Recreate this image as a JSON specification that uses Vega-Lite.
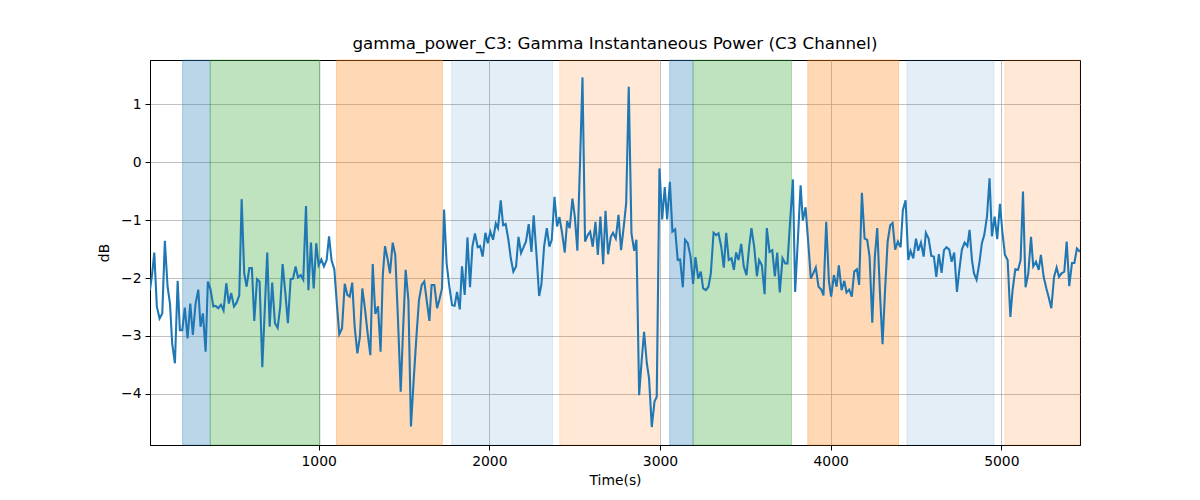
{
  "$schema": "https://vega.github.io/schema/vega-lite/v6.json",
  "width": 930,
  "height": 385,
  "autosize": {"type": "none"},
  "padding": {"left": 150, "top": 60, "right": 120, "bottom": 55},
  "background": "white",
  "title": {
    "text": "gamma_power_C3: Gamma Instantaneous Power (C3 Channel)",
    "font": "DejaVu Sans",
    "fontSize": 16.7,
    "fontWeight": "normal",
    "color": "black",
    "offset": 7
  },
  "config": {
    "view": {"stroke": "black", "strokeWidth": 1},
    "axis": {
      "domainColor": "black",
      "domainWidth": 1,
      "grid": true,
      "gridColor": "#b0b0b0",
      "gridWidth": 0.8,
      "tickColor": "black",
      "tickSize": 5,
      "tickWidth": 1,
      "labelFont": "DejaVu Sans",
      "labelFontSize": 13.9,
      "labelColor": "black",
      "labelFlush": false,
      "labelOverlap": false,
      "titleFont": "DejaVu Sans",
      "titleFontSize": 13.9,
      "titleFontWeight": "normal",
      "titleColor": "black"
    }
  },
  "datasets": {
    "bands": [
      {"start": 203, "end": 365, "phase": "P1"},
      {"start": 365, "end": 1008, "phase": "P2"},
      {"start": 1105, "end": 1725, "phase": "P3"},
      {"start": 1780, "end": 2370, "phase": "P4"},
      {"start": 2413, "end": 2995, "phase": "P5"},
      {"start": 3057, "end": 3194, "phase": "P1"},
      {"start": 3194, "end": 3771, "phase": "P2"},
      {"start": 3866, "end": 4398, "phase": "P3"},
      {"start": 4447, "end": 4957, "phase": "P4"},
      {"start": 5021, "end": 5461, "phase": "P5"}
    ],
    "power": [
      {"t": 12, "v": -2.21}, {"t": 25, "v": -1.92}, {"t": 37, "v": -1.56}, {"t": 52, "v": -2.49},
      {"t": 68, "v": -2.7}, {"t": 84, "v": -2.61}, {"t": 99, "v": -1.36}, {"t": 115, "v": -2.15},
      {"t": 129, "v": -2.44}, {"t": 142, "v": -3.13}, {"t": 158, "v": -3.47}, {"t": 174, "v": -2.05},
      {"t": 187, "v": -2.9}, {"t": 201, "v": -2.9}, {"t": 216, "v": -2.51}, {"t": 232, "v": -3.04},
      {"t": 248, "v": -2.44}, {"t": 263, "v": -2.98}, {"t": 279, "v": -2.44}, {"t": 295, "v": -2.2},
      {"t": 308, "v": -2.84}, {"t": 322, "v": -2.61}, {"t": 338, "v": -3.27}, {"t": 351, "v": -2.06},
      {"t": 367, "v": -2.2}, {"t": 383, "v": -2.49}, {"t": 396, "v": -2.48}, {"t": 412, "v": -2.52},
      {"t": 428, "v": -2.46}, {"t": 443, "v": -2.56}, {"t": 459, "v": -2.09}, {"t": 474, "v": -2.44},
      {"t": 488, "v": -2.26}, {"t": 504, "v": -2.49}, {"t": 519, "v": -2.43}, {"t": 535, "v": -2.3},
      {"t": 549, "v": -0.64}, {"t": 564, "v": -1.92}, {"t": 578, "v": -2.15}, {"t": 594, "v": -1.83},
      {"t": 609, "v": -1.83}, {"t": 623, "v": -2.74}, {"t": 639, "v": -2.02}, {"t": 654, "v": -2.06},
      {"t": 670, "v": -3.54}, {"t": 685, "v": -2.5}, {"t": 699, "v": -1.56}, {"t": 713, "v": -2.84},
      {"t": 728, "v": -2.08}, {"t": 744, "v": -2.78}, {"t": 760, "v": -2.86}, {"t": 775, "v": -2.49},
      {"t": 789, "v": -1.76}, {"t": 805, "v": -2.26}, {"t": 820, "v": -2.78}, {"t": 836, "v": -2.02},
      {"t": 850, "v": -2.01}, {"t": 865, "v": -1.8}, {"t": 879, "v": -1.99}, {"t": 895, "v": -1.95},
      {"t": 910, "v": -2.03}, {"t": 926, "v": -0.76}, {"t": 940, "v": -2.21}, {"t": 955, "v": -1.39},
      {"t": 971, "v": -2.18}, {"t": 986, "v": -1.4}, {"t": 1000, "v": -1.78}, {"t": 1016, "v": -1.68},
      {"t": 1031, "v": -1.8}, {"t": 1047, "v": -1.69}, {"t": 1061, "v": -1.28}, {"t": 1076, "v": -1.7},
      {"t": 1092, "v": -1.85}, {"t": 1108, "v": -2.49}, {"t": 1121, "v": -2.97}, {"t": 1137, "v": -2.87},
      {"t": 1153, "v": -2.1}, {"t": 1168, "v": -2.29}, {"t": 1182, "v": -2.32}, {"t": 1197, "v": -2.08},
      {"t": 1211, "v": -2.84}, {"t": 1227, "v": -3.3}, {"t": 1242, "v": -3.01}, {"t": 1256, "v": -2.18},
      {"t": 1272, "v": -2.54}, {"t": 1287, "v": -2.95}, {"t": 1303, "v": -3.33}, {"t": 1317, "v": -1.76},
      {"t": 1332, "v": -2.62}, {"t": 1348, "v": -2.49}, {"t": 1363, "v": -3.27}, {"t": 1376, "v": -1.95},
      {"t": 1389, "v": -1.45}, {"t": 1405, "v": -1.69}, {"t": 1418, "v": -1.92}, {"t": 1434, "v": -1.39},
      {"t": 1449, "v": -1.6}, {"t": 1465, "v": -2.72}, {"t": 1481, "v": -3.96}, {"t": 1494, "v": -2.95},
      {"t": 1510, "v": -1.86}, {"t": 1526, "v": -2.38}, {"t": 1541, "v": -4.56}, {"t": 1557, "v": -3.76},
      {"t": 1573, "v": -3.01}, {"t": 1588, "v": -2.38}, {"t": 1604, "v": -2.12}, {"t": 1619, "v": -2.06},
      {"t": 1633, "v": -2.38}, {"t": 1649, "v": -2.74}, {"t": 1662, "v": -2.12}, {"t": 1678, "v": -2.12},
      {"t": 1694, "v": -2.52}, {"t": 1707, "v": -2.38}, {"t": 1723, "v": -2.18}, {"t": 1735, "v": -0.82},
      {"t": 1750, "v": -1.75}, {"t": 1766, "v": -2.15}, {"t": 1782, "v": -2.47}, {"t": 1797, "v": -2.48},
      {"t": 1811, "v": -2.24}, {"t": 1827, "v": -2.54}, {"t": 1840, "v": -1.8}, {"t": 1856, "v": -2.29},
      {"t": 1872, "v": -1.3}, {"t": 1887, "v": -2.16}, {"t": 1901, "v": -1.46}, {"t": 1916, "v": -1.23},
      {"t": 1932, "v": -1.47}, {"t": 1946, "v": -1.45}, {"t": 1961, "v": -1.63}, {"t": 1977, "v": -1.22},
      {"t": 1991, "v": -1.4}, {"t": 2006, "v": -1.2}, {"t": 2022, "v": -1.34}, {"t": 2038, "v": -1.06},
      {"t": 2051, "v": -1.14}, {"t": 2067, "v": -0.66}, {"t": 2081, "v": -1.09}, {"t": 2096, "v": -1.07},
      {"t": 2112, "v": -1.34}, {"t": 2126, "v": -1.66}, {"t": 2141, "v": -1.89}, {"t": 2157, "v": -1.8},
      {"t": 2171, "v": -1.29}, {"t": 2186, "v": -1.57}, {"t": 2202, "v": -1.46}, {"t": 2215, "v": -1.37},
      {"t": 2231, "v": -1.07}, {"t": 2247, "v": -1.55}, {"t": 2260, "v": -0.92}, {"t": 2276, "v": -1.57},
      {"t": 2292, "v": -2.31}, {"t": 2305, "v": -2.12}, {"t": 2321, "v": -1.46}, {"t": 2337, "v": -1.14},
      {"t": 2352, "v": -1.46}, {"t": 2366, "v": -1.34}, {"t": 2382, "v": -0.6}, {"t": 2397, "v": -1.11},
      {"t": 2411, "v": -0.95}, {"t": 2427, "v": -1.23}, {"t": 2442, "v": -1.56}, {"t": 2456, "v": -1.02},
      {"t": 2471, "v": -1.14}, {"t": 2487, "v": -0.63}, {"t": 2501, "v": -0.94}, {"t": 2516, "v": -1.53},
      {"t": 2532, "v": 0.03}, {"t": 2546, "v": 1.46}, {"t": 2561, "v": -1.37}, {"t": 2577, "v": -1.26},
      {"t": 2591, "v": -1.2}, {"t": 2606, "v": -1.46}, {"t": 2622, "v": -1.03}, {"t": 2636, "v": -1.6},
      {"t": 2651, "v": -0.94}, {"t": 2667, "v": -1.76}, {"t": 2681, "v": -0.84}, {"t": 2696, "v": -1.59},
      {"t": 2712, "v": -1.29}, {"t": 2725, "v": -1.22}, {"t": 2741, "v": -1.32}, {"t": 2757, "v": -0.91},
      {"t": 2772, "v": -1.52}, {"t": 2788, "v": -1.11}, {"t": 2802, "v": -0.71}, {"t": 2817, "v": 1.3},
      {"t": 2833, "v": -1.23}, {"t": 2849, "v": -1.53}, {"t": 2862, "v": -1.34}, {"t": 2878, "v": -4.02},
      {"t": 2893, "v": -3.41}, {"t": 2907, "v": -2.93}, {"t": 2923, "v": -3.47}, {"t": 2936, "v": -3.73},
      {"t": 2952, "v": -4.57}, {"t": 2968, "v": -4.13}, {"t": 2981, "v": -4.05}, {"t": 2997, "v": -0.11},
      {"t": 3013, "v": -0.99}, {"t": 3028, "v": -0.43}, {"t": 3042, "v": -0.99}, {"t": 3058, "v": -0.34},
      {"t": 3073, "v": -1.2}, {"t": 3089, "v": -1.16}, {"t": 3104, "v": -1.69}, {"t": 3118, "v": -1.68},
      {"t": 3134, "v": -2.16}, {"t": 3147, "v": -1.34}, {"t": 3163, "v": -1.4}, {"t": 3179, "v": -1.63},
      {"t": 3194, "v": -2.1}, {"t": 3208, "v": -1.64}, {"t": 3224, "v": -2.01}, {"t": 3239, "v": -1.89},
      {"t": 3253, "v": -2.18}, {"t": 3269, "v": -2.21}, {"t": 3284, "v": -2.15}, {"t": 3298, "v": -1.92},
      {"t": 3314, "v": -1.22}, {"t": 3329, "v": -1.26}, {"t": 3343, "v": -1.23}, {"t": 3359, "v": -1.46},
      {"t": 3374, "v": -1.82}, {"t": 3388, "v": -1.22}, {"t": 3403, "v": -1.69}, {"t": 3419, "v": -1.66},
      {"t": 3433, "v": -1.86}, {"t": 3446, "v": -1.56}, {"t": 3460, "v": -1.69}, {"t": 3476, "v": -1.41},
      {"t": 3491, "v": -1.8}, {"t": 3507, "v": -1.95}, {"t": 3523, "v": -1.45}, {"t": 3536, "v": -1.14},
      {"t": 3552, "v": -1.46}, {"t": 3568, "v": -1.97}, {"t": 3581, "v": -1.69}, {"t": 3597, "v": -1.78},
      {"t": 3613, "v": -2.28}, {"t": 3626, "v": -1.14}, {"t": 3642, "v": -1.55}, {"t": 3658, "v": -1.52},
      {"t": 3673, "v": -1.97}, {"t": 3687, "v": -1.56}, {"t": 3702, "v": -2.25}, {"t": 3718, "v": -1.66},
      {"t": 3734, "v": -1.75}, {"t": 3747, "v": -1.75}, {"t": 3763, "v": -1.0}, {"t": 3779, "v": -0.3},
      {"t": 3792, "v": -2.24}, {"t": 3808, "v": -1.34}, {"t": 3824, "v": -0.4}, {"t": 3837, "v": -1.01},
      {"t": 3853, "v": -0.78}, {"t": 3869, "v": -1.4}, {"t": 3884, "v": -2.01}, {"t": 3898, "v": -1.92},
      {"t": 3913, "v": -1.82}, {"t": 3929, "v": -2.15}, {"t": 3945, "v": -2.2}, {"t": 3958, "v": -2.3},
      {"t": 3974, "v": -1.03}, {"t": 3990, "v": -2.06}, {"t": 4003, "v": -2.32}, {"t": 4019, "v": -1.95},
      {"t": 4035, "v": -2.15}, {"t": 4048, "v": -1.78}, {"t": 4064, "v": -2.21}, {"t": 4080, "v": -2.05},
      {"t": 4093, "v": -2.25}, {"t": 4109, "v": -2.2}, {"t": 4124, "v": -2.32}, {"t": 4138, "v": -1.89},
      {"t": 4154, "v": -1.85}, {"t": 4167, "v": -2.12}, {"t": 4183, "v": -0.53}, {"t": 4199, "v": -1.32},
      {"t": 4214, "v": -1.34}, {"t": 4228, "v": -1.63}, {"t": 4244, "v": -2.77}, {"t": 4259, "v": -1.63},
      {"t": 4273, "v": -1.14}, {"t": 4289, "v": -2.26}, {"t": 4304, "v": -3.14}, {"t": 4318, "v": -2.26},
      {"t": 4334, "v": -1.37}, {"t": 4349, "v": -1.09}, {"t": 4363, "v": -1.05}, {"t": 4378, "v": -1.51},
      {"t": 4394, "v": -1.37}, {"t": 4410, "v": -1.47}, {"t": 4423, "v": -0.83}, {"t": 4439, "v": -0.66},
      {"t": 4455, "v": -1.69}, {"t": 4468, "v": -1.53}, {"t": 4484, "v": -1.66}, {"t": 4500, "v": -1.32},
      {"t": 4513, "v": -1.53}, {"t": 4529, "v": -1.39}, {"t": 4545, "v": -1.63}, {"t": 4558, "v": -1.22},
      {"t": 4574, "v": -1.32}, {"t": 4590, "v": -1.62}, {"t": 4605, "v": -1.63}, {"t": 4619, "v": -1.98},
      {"t": 4634, "v": -1.59}, {"t": 4650, "v": -1.91}, {"t": 4664, "v": -1.52}, {"t": 4679, "v": -1.47},
      {"t": 4695, "v": -1.51}, {"t": 4709, "v": -1.72}, {"t": 4724, "v": -1.56}, {"t": 4740, "v": -2.24},
      {"t": 4754, "v": -1.86}, {"t": 4769, "v": -1.51}, {"t": 4785, "v": -1.39}, {"t": 4801, "v": -1.45},
      {"t": 4814, "v": -1.17}, {"t": 4828, "v": -1.69}, {"t": 4840, "v": -1.92}, {"t": 4855, "v": -2.03},
      {"t": 4871, "v": -1.75}, {"t": 4886, "v": -1.4}, {"t": 4900, "v": -1.26}, {"t": 4916, "v": -0.94},
      {"t": 4931, "v": -0.28}, {"t": 4945, "v": -1.28}, {"t": 4961, "v": -0.94}, {"t": 4976, "v": -1.33},
      {"t": 4992, "v": -0.72}, {"t": 5006, "v": -1.2}, {"t": 5021, "v": -1.6}, {"t": 5037, "v": -1.69},
      {"t": 5053, "v": -2.67}, {"t": 5066, "v": -2.21}, {"t": 5082, "v": -1.85}, {"t": 5098, "v": -1.86},
      {"t": 5113, "v": -1.69}, {"t": 5127, "v": -0.51}, {"t": 5142, "v": -2.16}, {"t": 5158, "v": -1.92},
      {"t": 5174, "v": -1.29}, {"t": 5187, "v": -1.8}, {"t": 5203, "v": -1.72}, {"t": 5219, "v": -1.86},
      {"t": 5232, "v": -1.6}, {"t": 5248, "v": -1.98}, {"t": 5264, "v": -2.18}, {"t": 5279, "v": -2.35},
      {"t": 5293, "v": -2.52}, {"t": 5309, "v": -1.98}, {"t": 5324, "v": -1.82}, {"t": 5338, "v": -1.98},
      {"t": 5353, "v": -1.92}, {"t": 5369, "v": -1.89}, {"t": 5383, "v": -1.37}, {"t": 5398, "v": -2.14},
      {"t": 5414, "v": -1.74}, {"t": 5428, "v": -1.74}, {"t": 5443, "v": -1.49}, {"t": 5461, "v": -1.55}
    ]
  },
  "layer": [
    {
      "data": {"name": "bands"},
      "mark": {"type": "rect", "strokeWidth": 1},
      "encoding": {
        "x": {
          "field": "start",
          "type": "quantitative",
          "title": "Time(s)",
          "scale": {"domain": [12, 5461], "nice": false, "zero": false},
          "axis": {"values": [1000, 2000, 3000, 4000, 5000], "format": "d", "labelPadding": 4, "titlePadding": 6}
        },
        "x2": {"field": "end"},
        "fill": {
          "field": "phase",
          "type": "nominal",
          "legend": null,
          "scale": {
            "domain": ["P1", "P2", "P3", "P4", "P5"],
            "range": ["rgba(31,119,180,0.3)", "rgba(44,160,44,0.3)", "rgba(255,127,14,0.3)", "rgba(31,119,180,0.12)", "rgba(255,127,14,0.17)"]
          }
        },
        "stroke": {
          "field": "phase",
          "type": "nominal",
          "legend": null,
          "scale": {
            "domain": ["P1", "P2", "P3", "P4", "P5"],
            "range": ["rgba(31,119,180,0.3)", "rgba(44,160,44,0.3)", "rgba(255,127,14,0.3)", "rgba(31,119,180,0.12)", "rgba(255,127,14,0.17)"]
          }
        }
      }
    },
    {
      "data": {"name": "power"},
      "mark": {"type": "line", "color": "#1f77b4", "strokeWidth": 2.08, "clip": true},
      "encoding": {
        "x": {"field": "t", "type": "quantitative", "title": "Time(s)"},
        "y": {
          "field": "v",
          "type": "quantitative",
          "title": "dB",
          "scale": {"domain": [-4.88, 1.76], "nice": false, "zero": false},
          "axis": {"values": [-4, -3, -2, -1, 0, 1], "format": "d", "labelPadding": 4, "titlePadding": 9}
        }
      }
    }
  ]
}
